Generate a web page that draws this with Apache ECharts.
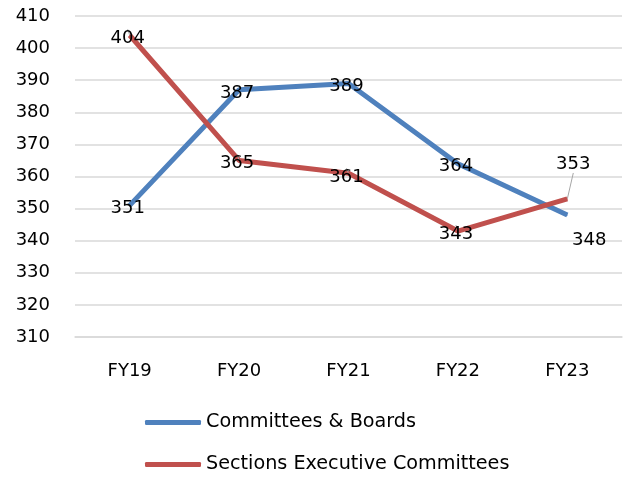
<!DOCTYPE html>
<html><head><meta charset="utf-8">
<script src="https://cdn.jsdelivr.net/npm/echarts@6/dist/echarts.min.js"></script>
<style>html,body{margin:0;padding:0;background:#fff}#c{width:629px;height:481px}</style>
</head><body><div id="c"></div>
<script>
const categories = ['FY19','FY20','FY21','FY22','FY23'];
const committeesBoards = [351, 387, 389, 364, 348];
const sectionsExec = [404, 365, 361, 343, 353];
const seriesNames = ['Committees & Boards', 'Sections Executive Committees'];
const yTicks = {min: 310, max: 410, interval: 10};

const font = '"DejaVu Sans", sans-serif';
const chart = echarts.init(document.getElementById('c'), null, {renderer: 'canvas'});
const labelOffsets = {
  '0-4': [22, 25],
  '1-2': [-2, 4],
  '1-4': [6, -35]
};
chart.setOption({
  animation: false,
  textStyle: {fontFamily: font},
  grid: {left: 75, right: 7, top: 16, bottom: 144},
  legend: {
    orient: 'vertical', left: 140, top: 408, itemGap: 23,
    itemWidth: 56, itemHeight: 5,
    icon: 'roundRect',
    textStyle: {fontSize: 19.2, color: '#000', fontFamily: font},
    data: seriesNames
  },
  xAxis: {
    type: 'category', data: categories, boundaryGap: true,
    axisLine: {show: true, lineStyle: {color: '#d9d9d9', width: 1.5}},
    axisTick: {show: false},
    axisLabel: {fontSize: 18, color: '#000', margin: 25, fontFamily: font}
  },
  yAxis: {
    type: 'value', min: yTicks.min, max: yTicks.max, interval: yTicks.interval,
    axisLine: {show: false}, axisTick: {show: false},
    axisLabel: {fontSize: 18, color: '#000', margin: 25, fontFamily: font},
    splitLine: {lineStyle: {color: '#d9d9d9', width: 1.5}}
  },
  series: [
    {name: seriesNames[0], type: 'line', data: committeesBoards,
     symbol: 'circle', symbolSize: 1, showSymbol: true,
     lineStyle: {color: '#4f81bd', width: 5}, itemStyle: {color: '#4f81bd'},
     label: {show: true, position: 'inside', fontSize: 18, color: '#000', fontFamily: font}},
    {name: seriesNames[1], type: 'line', data: sectionsExec,
     symbol: 'circle', symbolSize: 1, showSymbol: true,
     lineStyle: {color: '#c0504d', width: 5}, itemStyle: {color: '#c0504d'},
     label: {show: true, position: 'inside', fontSize: 18, color: '#000', fontFamily: font},
     labelLine: {show: true, lineStyle: {color: '#a6a6a6', width: 1}}}
  ],
  labelLayout: function (p) {
    const o = labelOffsets[p.seriesIndex + '-' + p.dataIndex];
    if (o) return {dx: o[0], dy: o[1]};
    return {dx: -2, dy: 3};
  }
});
</script></body></html>
